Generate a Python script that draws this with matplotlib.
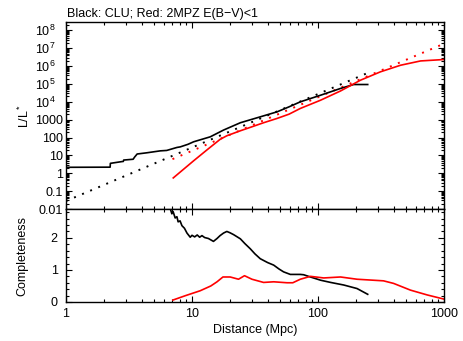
import matplotlib
matplotlib.use("Agg")
import matplotlib.pyplot as plt
from matplotlib.ticker import FixedLocator, LogLocator, MultipleLocator, NullFormatter

plt.rcParams['font.family'] = ['Liberation Sans', 'DejaVu Sans']
plt.rcParams['mathtext.fontset'] = 'custom'
plt.rcParams['mathtext.rm'] = 'Liberation Sans'
plt.rcParams['mathtext.it'] = 'Liberation Sans:italic'
plt.rcParams['font.size'] = 9

# top panel: cumulative luminosity L/L* vs distance
clu_dist = [1, 2.24, 2.25, 2.77, 2.85, 2.87, 3.41, 3.5, 3.67, 4.37, 5.6, 6.3, 7.6, 8.06,
            9.3, 10.3, 13.96, 17.8, 24.2, 34.8, 47.3, 58.9, 72.4, 104.7, 151, 192, 248]
clu_lum = [2.16, 2.2, 3.6, 4.5, 4.6, 5.5, 6.1, 8, 12, 14, 18, 19, 28, 30,
           42, 58, 110, 263, 676, 1445, 2754, 5250, 1.0e4, 2.34e4, 5.62e4, 9.33e4, 9.33e4]

mpz_dist = [7.1, 10.3, 13.1, 16.7, 18.9, 24.2, 29.0, 37.0, 47.3, 58.9, 72.4, 104.7,
            151, 217, 313, 452, 652, 1000]
mpz_lum = [0.55, 5.0, 20, 79, 126, 240, 372, 676, 1175, 2040, 4266, 1.23e4,
           4.07e4, 1.62e5, 4.79e5, 1.12e6, 1.95e6, 2.34e6]

# d^3 reference lines (end points)
clu_ref_dist = [1, 243]
clu_ref_lum = [0.028, 3.9e5]
mpz_ref_dist = [7, 1000]
mpz_ref_lum = [6.2, 1.8e7]

# bottom panel: completeness
clu_comp_dist = [6.71, 6.92, 7.08, 7.35, 7.59, 7.76, 8.04, 8.32, 8.71, 9.12, 9.68, 10, 10.5,
                 11.0, 11.5, 12.0, 12.6, 13.5, 14.8, 15.8, 16.7, 17.8, 18.9, 20, 21.4, 24.2,
                 26.3, 29.0, 31.6, 34.8, 39.8, 44.5, 49, 53.3, 60.3, 72.4, 76.9, 87.1,
                 104.7, 126, 160, 204, 248]
clu_comp = [2.92, 2.75, 2.82, 2.62, 2.66, 2.50, 2.53, 2.38, 2.30, 2.15, 2.02, 2.08, 2.03,
            2.09, 2.02, 2.07, 2.01, 1.98, 1.89, 1.98, 2.07, 2.15, 2.20, 2.16, 2.10, 1.97,
            1.82, 1.66, 1.50, 1.35, 1.23, 1.15, 1.03, 0.94, 0.86, 0.86, 0.85, 0.78,
            0.68, 0.61, 0.53, 0.42, 0.24]

mpz_comp_dist = [7.05, 8.9, 11.6, 14.1, 15.8, 17.6, 20.1, 23.4, 26.1, 29.9, 37.0, 44.5,
                 56.8, 63.1, 72.4, 87.1, 111, 151, 204, 331, 398, 542, 736, 1000]
mpz_comp = [0.06, 0.2, 0.35, 0.50, 0.63, 0.78, 0.78, 0.71, 0.82, 0.71, 0.61, 0.63,
            0.60, 0.60, 0.71, 0.80, 0.75, 0.78, 0.71, 0.66, 0.58, 0.37, 0.22, 0.09]

top_ticks = [1e-2, 1e-1, 1, 10, 100, 1000, 1e4, 1e5, 1e6, 1e7, 1e8]
top_labels = ['0.01', '0.1', '1', '10', '100', '1000',
              '$10^4$   ', '$10^5$   ', '$10^6$   ', '$10^7$   ', '$10^8$   ']

W, H = 463, 341
fig = plt.figure(figsize=(W / 100, H / 100), dpi=100)
left, right = 66 / W, 444 / W
ax1 = fig.add_axes([left, 1 - 209 / H, right - left, (209 - 22) / H])
ax2 = fig.add_axes([left, 1 - 302 / H, right - left, (302 - 209) / H])

ax1.plot(clu_ref_dist, clu_ref_lum, color='black', lw=1.4, ls=(0, (1, 3.5)))
ax1.plot(mpz_ref_dist, mpz_ref_lum, color='red', lw=1.4, ls=(0, (1, 3.5)))
ax1.plot(clu_dist, clu_lum, color='black', lw=1.2)
ax1.plot(mpz_dist, mpz_lum, color='red', lw=1.2)

ax2.plot(clu_comp_dist, clu_comp, color='black', lw=1.2)
ax2.plot(mpz_comp_dist, mpz_comp, color='red', lw=1.2)

for ax in (ax1, ax2):
    ax.set_xscale('log')
    ax.set_xlim(1, 1000)
    ax.tick_params(which='both', direction='in', top=True, right=True, width=0.8)
    ax.tick_params(which='major', length=4.5)
    ax.tick_params(which='minor', length=2.5)
    for s in ax.spines.values():
        s.set_linewidth(1.0)

ax1.set_yscale('log')
ax1.set_ylim(0.01, 10 ** 8.47)
ax1.yaxis.set_major_locator(FixedLocator(top_ticks))
ax1.set_yticklabels(top_labels)
ax1.yaxis.set_minor_locator(LogLocator(base=10, subs=range(2, 10), numticks=20))
ax1.yaxis.set_minor_formatter(NullFormatter())
ax1.tick_params(axis='y', pad=2)
ax1.xaxis.set_major_formatter(NullFormatter())
ax1.xaxis.set_minor_formatter(NullFormatter())
ax1.set_ylabel('L/L$^*$', labelpad=2)

ax2.set_ylim(0, 2.9)
ax2.yaxis.set_major_locator(MultipleLocator(1))
ax2.yaxis.set_minor_locator(MultipleLocator(0.2))
ax2.set_xticks([1, 10, 100, 1000])
ax2.set_xticklabels(['1', '10', '100', '1000'])
ax2.xaxis.set_minor_formatter(NullFormatter())
ax2.tick_params(axis='x', pad=4)
ax2.tick_params(axis='y', pad=6)
ax2.set_xlabel('Distance (Mpc)', labelpad=3)
ax2.set_ylabel('Completeness', labelpad=16)

fig.text(67 / W, 1 - 17.3 / H, 'Black: CLU; Red: 2MPZ E(B\u2212V)<1', ha='left', va='baseline')

fig.savefig('out.png', dpi=100)
